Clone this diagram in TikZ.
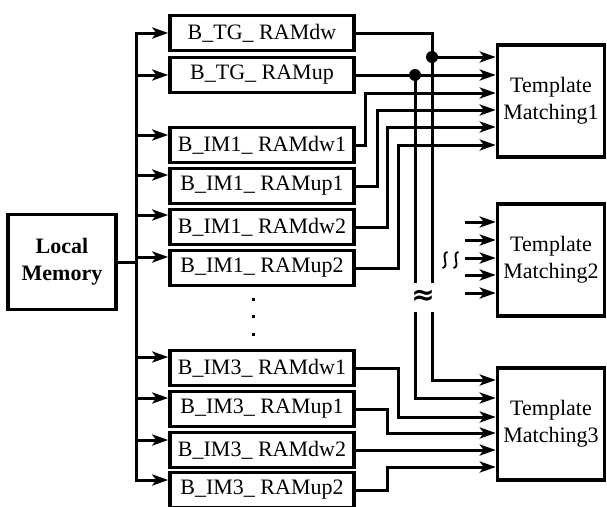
\documentclass[tikz,border=0pt]{standalone}
\usepackage{fontspec}
\setmainfont{Liberation Serif}
\newfontfamily\symfont{DejaVu Sans}
\usetikzlibrary{arrows.meta}

\tikzset{
  ram/.style={draw,line width=3.5pt,minimum width=184pt,minimum height=35pt,inner sep=0pt},
  tm/.style={draw,line width=3.5pt,minimum width=107pt,minimum height=112pt,align=center,inner sep=0pt},
  wire/.style={line width=3pt},
  arr/.style={wire,-{Stealth[length=16pt,width=11pt,inset=4pt]}},
  jdot/.style={circle,fill,inner sep=0pt,minimum size=12pt},
}

\begin{document}
\begin{tikzpicture}[x=1pt,y=-1pt,font=\fontsize{22}{27}\selectfont]
\useasboundingbox (0,0) rectangle (607,506);
% memory and buffers
\node[draw,line width=3.5pt,minimum width=108pt,minimum height=95pt,align=center,font=\fontsize{22}{27}\selectfont\bfseries] (mem) at (62,262) {Local\\Memory};
\node[ram] (tgdw) at (262,33) {B\_TG\_ RAMdw};
\node[ram] (tgup) at (262,75) {B\_TG\_ RAMup};
\node[ram] (im1dw1) at (262,145) {B\_IM1\_ RAMdw1};
\node[ram] (im1up1) at (262,186) {B\_IM1\_ RAMup1};
\node[ram] (im1dw2) at (262,227) {B\_IM1\_ RAMdw2};
\node[ram] (im1up2) at (262,268) {B\_IM1\_ RAMup2};
\node[ram] (im3dw1) at (262,368) {B\_IM3\_ RAMdw1};
\node[ram] (im3up1) at (262,409) {B\_IM3\_ RAMup1};
\node[ram] (im3dw2) at (262,450) {B\_IM3\_ RAMdw2};
\node[ram] (im3up2) at (262,490) {B\_IM3\_ RAMup2};
\foreach \y in {299,316,334}
  \fill (251.5,\y-1.5) rectangle ++(3,3);
% matching units
\node[tm] (tm1) at (551,101) {Template\\Matching1};
\node[tm] (tm2) at (551,260) {Template\\Matching2};
\node[tm] (tm3) at (551,424) {Template\\Matching3};

% bus from local memory
\coordinate (bustop) at (136,33);
\coordinate (busbot) at (136,480);
\draw[wire,line cap=rect] (bustop) -- (busbot);
\draw[wire] (mem.east) -- (mem.east -| bustop);
\foreach \b/\y in {tgdw/33,tgup/75,im1dw1/135,im1up1/175,im1dw2/215,im1up2/257,im3dw1/357,im3up1/398,im3dw2/440,im3up2/480}
  \draw[arr] (bustop |- 0,\y) -- (\b.west |- 0,\y);

% template buffers, shared by all units
\coordinate (j1) at (432,57);
\coordinate (j2) at (415,75);
\coordinate (g1) at (432,283);
\coordinate (g1b) at (432,312);
\coordinate (g2) at (415,283);
\coordinate (g2b) at (415,312);
\draw[wire] (tgdw.east) -| (g1);
\draw[arr] (j1) -- (tm1.west |- j1);
\draw[arr] (tgup.east) -- (tm1.west |- tgup.east);
\draw[wire] (j2) -- (g2);
\draw[arr] (g1b) |- (tm3.west |- 0,380);
\draw[arr] (g2b) |- (tm3.west |- 0,398);
\node[jdot] (d1) at (j1) {};
\node[jdot] (d2) at (j2) {};
\node[font=\symfont\bfseries\fontsize{28}{28}\selectfont,inner sep=0pt] (brk) at (423,297) {≈};

% image buffers
\draw[arr] (im1dw1.east) -| (365,93) -- (tm1.west |- 0,93);
\draw[arr] (im1up1.east) -| (377,110) -- (tm1.west |- 0,110);
\draw[arr] (im1dw2.east) -| (387,127) -- (tm1.west |- 0,127);
\draw[arr] (im1up2.east) -| (398,145) -- (tm1.west |- 0,145);
\draw[arr] (im3dw1.east) -| (398,417) -- (tm3.west |- 0,417);
\draw[arr] (im3up1.east) -| (387,433) -- (tm3.west |- 0,433);
\draw[arr] (im3dw2.east) -- (tm3.west |- im3dw2.east);
\draw[arr] (im3up2.east) -| (387,467) -- (tm3.west |- 0,467);

% inputs of unit 2
\foreach \y in {222,240,258,275,293}
  \draw[arr] (465,\y) -- (tm2.west |- 0,\y);
\foreach \x in {445,456}
  \draw[line width=1.8pt] (\x+2.5,252) .. controls (\x-5,253) and (\x+5,267) .. (\x-2.5,268);
\end{tikzpicture}
\end{document}
